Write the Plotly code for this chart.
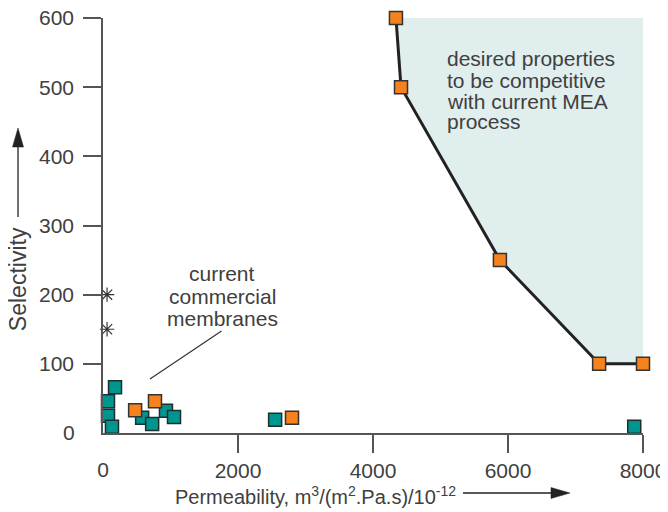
import plotly.graph_objects as go

# ---- data ----
teal_x = [178, 74, 74, 133, 580, 728, 933, 1052, 2550, 7870]
teal_y = [66, 46, 25, 9, 22, 13, 32, 23, 19, 9]
orange_x = [476, 770, 2800]
orange_y = [33, 46, 22]
star_x = [60, 60]
star_y = [200, 150]
bound_x = [4340, 4415, 5880, 7350, 8000]
bound_y = [600, 500, 250, 100, 100]
x_ticks = [2000, 4000, 6000, 8000]
y_ticks = [100, 200, 300, 400, 500, 600]
X_MAX, Y_MAX = 8000, 600

membrane_lines = ["current", "commercial", "membranes"]
membrane_y = [231, 198, 166]
desired_lines = ["desired properties", "to be competitive",
                 "with current MEA", "process"]
desired_y = [542, 510, 480, 450]

TEXT = "#404040"
AX = "#555555"
FONT = "Liberation Sans"
FS = 21

fig = go.Figure()

# shaded target region
fig.add_trace(go.Scatter(
    x=bound_x + [X_MAX], y=bound_y + [Y_MAX], mode="lines",
    fill="toself", fillcolor="#e0eeee", line=dict(width=0),
    hoverinfo="skip", showlegend=False))

# boundary line with orange squares
fig.add_trace(go.Scatter(
    x=bound_x, y=bound_y, mode="lines+markers",
    line=dict(color="#222222", width=3),
    marker=dict(symbol="square", size=13, color="#f5821f",
                line=dict(color="#333333", width=1.5)),
    cliponaxis=False, showlegend=False))

fig.add_trace(go.Scatter(
    x=teal_x, y=teal_y, mode="markers",
    marker=dict(symbol="square", size=13, color="#009690",
                line=dict(color="#1e2e2e", width=1.5)),
    cliponaxis=False, showlegend=False))

fig.add_trace(go.Scatter(
    x=orange_x, y=orange_y, mode="markers",
    marker=dict(symbol="square", size=13, color="#f5821f",
                line=dict(color="#333333", width=1.5)),
    cliponaxis=False, showlegend=False))

fig.add_trace(go.Scatter(
    x=star_x, y=star_y, mode="markers",
    marker=dict(symbol="asterisk-open", size=12, color="#333333",
                line=dict(color="#333333", width=1.2)),
    cliponaxis=False, showlegend=False))

# dummy trace for the label-only overlay axes (the "0" labels)
fig.add_trace(go.Scatter(x=[None], y=[None], xaxis="x2", yaxis="y2",
                         showlegend=False, hoverinfo="skip"))

font = dict(family=FONT, size=FS, color=TEXT)

common = dict(showgrid=False, zeroline=False, tickfont=font,
              automargin=False, ticklabeloverflow="allow")

fig.update_layout(
    width=668, height=512,
    margin=dict(l=95, r=33, t=10, b=87),
    paper_bgcolor="white", plot_bgcolor="white",
    font=font,
    xaxis=dict(range=[0, X_MAX], tickvals=x_ticks, ticks="outside",
               ticklen=18, tickcolor=AX, tickwidth=1.5,
               showline=True, linecolor=AX, linewidth=1.5,
               ticklabelstandoff=0, **common),
    yaxis=dict(range=[0, Y_MAX], tickvals=y_ticks, ticks="outside",
               ticklen=18, tickcolor=AX, tickwidth=1.5,
               showline=True, linecolor=AX, linewidth=1.5,
               ticklabelstandoff=5, **common),
    xaxis2=dict(range=[0, X_MAX], overlaying="x", anchor="y2", side="bottom",
                tickvals=[0], ticks="outside", ticklen=18,
                tickcolor="rgba(0,0,0,0)", showline=False,
                ticklabelstandoff=0, **common),
    yaxis2=dict(range=[0, Y_MAX], overlaying="y", anchor="x2", side="left",
                tickvals=[0], ticks="outside", ticklen=18,
                tickcolor="rgba(0,0,0,0)", showline=False,
                ticklabelstandoff=5, **common),
)

# axis titles
fig.add_annotation(xref="paper", yref="paper", x=-0.185, y=0.371,
                   text="Selectivity", textangle=-90, showarrow=False,
                   font=dict(family=FONT, size=23, color=TEXT))
fig.add_annotation(xref="paper", yref="paper", x=0.393, y=-0.186,
                   text="Permeability, m<sup>3</sup>/(m<sup>2</sup>.Pa.s)/10<sup>-12</sup>",
                   showarrow=False, font=dict(family=FONT, size=20, color=TEXT))

# title arrows (pixel-sized decorations anchored in paper space)
ARROW = "#222222"
fig.add_shape(type="path", xref="paper", yref="paper",
              xsizemode="pixel", ysizemode="pixel",
              xanchor=-0.1574, yanchor=0.7349,
              path="M 0 -89 L 0 -15", line=dict(color=ARROW, width=1.3))
fig.add_shape(type="path", xref="paper", yref="paper",
              xsizemode="pixel", ysizemode="pixel",
              xanchor=-0.1574, yanchor=0.7349,
              path="M 0 0 L -5.5 -19 L 5.5 -19 Z",
              fillcolor=ARROW, line=dict(color=ARROW, width=0.5))
fig.add_shape(type="path", xref="paper", yref="paper",
              xsizemode="pixel", ysizemode="pixel",
              xanchor=0.8648, yanchor=-0.1446,
              path="M -107 0 L -15 0", line=dict(color=ARROW, width=1.3))
fig.add_shape(type="path", xref="paper", yref="paper",
              xsizemode="pixel", ysizemode="pixel",
              xanchor=0.8648, yanchor=-0.1446,
              path="M 0 0 L -19 5.5 L -19 -5.5 Z",
              fillcolor=ARROW, line=dict(color=ARROW, width=0.5))

# text annotations
for t, yy in zip(membrane_lines, membrane_y):
    fig.add_annotation(x=1763, y=yy, text=t, showarrow=False, font=font,
                       xanchor="center")
fig.add_annotation(x=696, y=78, ax=1778, ay=149, axref="x", ayref="y",
                   text="", showarrow=True, arrowhead=0, arrowwidth=1.2,
                   arrowcolor="#333333")
for t, yy in zip(desired_lines, desired_y):
    fig.add_annotation(x=5067, y=yy, xanchor="left", text=t,
                       showarrow=False, font=font, align="left")

fig.write_html("out.html")
